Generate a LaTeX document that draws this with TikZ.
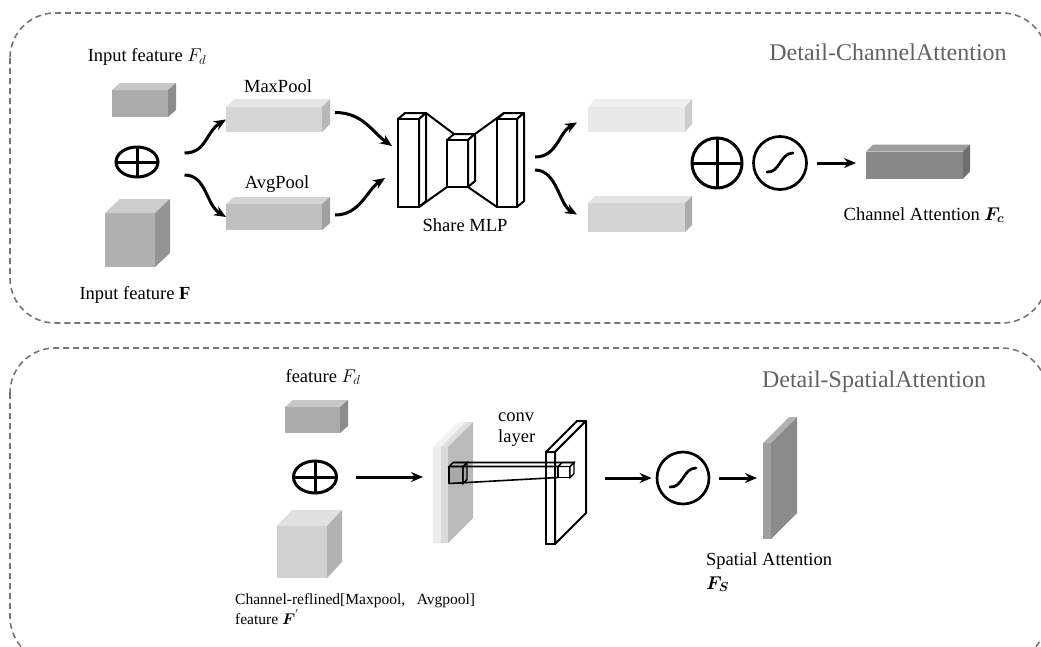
\RequirePackage{fix-cm}
\documentclass[tikz,border=0pt]{standalone}
\usepackage{amsmath,amssymb}
\usepackage{fontspec}
\setmainfont{Liberation Serif}
\usetikzlibrary{shapes.geometric,arrows.meta}

\definecolor{PanelGray}{RGB}{118,118,118}
\definecolor{TitleGray}{RGB}{98,98,98}

% top and right faces of a block whose front face is the node #1
\newcommand{\blockfaces}[4]{%
  \path[#3] (#1.north west) -- ([shift={#2}]#1.north west) -- ([shift={#2}]#1.north east) -- (#1.north east) -- cycle;
  \path[#4] (#1.north east) -- ([shift={#2}]#1.north east) -- ([shift={#2}]#1.south east) -- (#1.south east) -- cycle;
}

\begin{document}
\begin{tikzpicture}[x=1pt,y=-1pt,
    panel/.style={draw=PanelGray,line width=1.6pt,dash pattern=on 6pt off 4pt,rounded corners=45pt},
    blk/.style={rectangle,inner sep=0pt,outer sep=0pt},
    oplus/.style={ellipse,draw,line width=3pt,inner sep=0pt,
        path picture={\draw[line width=3pt] (path picture bounding box.north) -- (path picture bounding box.south)
                      (path picture bounding box.west) -- (path picture bounding box.east);}},
    sig/.style={circle,draw,line width=2.7pt,inner sep=0pt,minimum size=52pt,
        path picture={\draw[line width=2.7pt,line cap=round,shift={(path picture bounding box.center)}]
                      (-13pt,-9pt) .. controls (0pt,-10pt) and (0pt,10pt) .. (13pt,10pt);}},
    arr/.style={-{Stealth[length=12pt,width=10pt]},line width=3pt},
    lbl/.style={font=\fontsize{18.5}{21}\selectfont,inner sep=1pt},
    head/.style={font=\fontsize{24}{26}\selectfont,text=TitleGray}]
    \useasboundingbox (0,0) rectangle (1041,646);
    \clip (0,0) rectangle (1041,646);

    % dashed panels
    \draw[panel] (10,13) rectangle (1047,323);
    \draw[panel] (10,348) rectangle (1047,662);
    \node[head] (hC) at (888,52) {Detail-ChannelAttention};
    \node[head] (hS) at (874,382) {Detail-SpatialAttention};

    %% channel attention
    \node[blk,fill=black!33,minimum width=56pt,minimum height=27pt] (fdC) at (140,103.5) {};
    \blockfaces{fdC}{(8,-7)}{fill=black!22}{fill=black!45}
    \node[blk,fill=black!31,minimum width=50pt,minimum height=54pt] (fC) at (130,240) {};
    \blockfaces{fC}{(15,-14)}{fill=black!20}{fill=black!42}
    \node[oplus,minimum width=42pt,minimum height=30pt] (opF) at (137,162) {};
    \node[lbl] (tFd) at (147,57) {Input feature $F_d$};
    \node[lbl] (tF) at (135,295) {Input feature \textbf{F}};

    \node[blk,fill=black!16,minimum width=96pt,minimum height=25pt] (maxp) at (274,119.5) {};
    \blockfaces{maxp}{(8,-8)}{fill=black!10}{fill=black!28}
    \node[blk,fill=black!25,minimum width=96pt,minimum height=26pt] (avgp) at (274,217) {};
    \blockfaces{avgp}{(8,-7)}{fill=black!17}{fill=black!37}
    \node[lbl] (tMax) at (278,86) {MaxPool};
    \node[lbl] (tAvg) at (277,184) {AvgPool};
    \draw[arr] ([xshift=25pt,yshift=9pt]opF.east) .. controls +(22,0) and +(-20,12) .. (maxp.west);
    \draw[arr] ([xshift=25pt,yshift=-13pt]opF.east) .. controls +(22,0) and +(-20,-12) .. (avgp.west);

    % shared MLP
    \node[blk,minimum width=21pt,minimum height=88pt] (mlpA) at (408.5,163) {};
    \node[blk,minimum width=21pt,minimum height=47pt] (mlpB) at (457.5,163.5) {};
    \node[blk,minimum width=20pt,minimum height=88pt] (mlpC) at (507,163) {};
    \draw[line width=2pt] ([shift={(7,-6)}]mlpA.north east) -- ([shift={(7,-6)}]mlpB.north west)
        ([shift={(7,-6)}]mlpB.north east) -- ([shift={(7,-6)}]mlpC.north west)
        (mlpA.south east) -- (mlpB.south west) (mlpB.south east) -- (mlpC.south west);
    \foreach \mlpbar in {mlpA,mlpB,mlpC}{
        \blockfaces{\mlpbar}{(7,-6)}{draw,fill=white,line width=2pt,line join=round}{draw,fill=white,line width=2pt,line join=round}
        \draw[line width=2pt,fill=white] (\mlpbar.north west) rectangle (\mlpbar.south east);
    }
    \node[lbl] (tMlp) at (465,225) {Share MLP};
    \draw[arr] ([xshift=13pt,yshift=7pt]maxp.east) .. controls +(28,0) and +(-20,-14) .. ([xshift=-6pt,yshift=17pt]mlpA.west);
    \draw[arr] ([xshift=13pt,yshift=2pt]avgp.east) .. controls +(25,0) and +(-18,12) .. ([xshift=-13pt,yshift=-15pt]mlpA.west);

    \node[blk,fill=black!9,minimum width=97pt,minimum height=25pt] (out1) at (636.5,119.5) {};
    \blockfaces{out1}{(7,-8)}{fill=black!6}{fill=black!20}
    \node[blk,fill=black!17,minimum width=97pt,minimum height=29pt] (out2) at (636.5,217.5) {};
    \blockfaces{out2}{(7,-7)}{fill=black!11}{fill=black!32}
    \draw[arr] ([xshift=18pt,yshift=6pt]mlpC.east) .. controls +(22,0) and +(-18,10) .. ([xshift=-11pt,yshift=-3pt]out1.west);
    \draw[arr] ([xshift=18pt,yshift=-7pt]mlpC.east) .. controls +(22,0) and +(-18,-10) .. ([xshift=-11pt,yshift=3pt]out2.west);

    \node[oplus,minimum width=50pt,minimum height=50pt] (opC) at (717,163) {};
    \node[sig,minimum size=53pt] (sigC) at (780,163) {};
    \node[blk,fill=black!47,minimum width=97pt,minimum height=27pt] (fc) at (914.5,165) {};
    \blockfaces{fc}{(7,-7)}{fill=black!38}{fill=black!56}
    \draw[arr,shorten <=9pt,shorten >=10pt] (sigC.east) -- (sigC -| fc.west);
    \node[lbl] (tFc) at (924,215) {Channel Attention $\boldsymbol{F_c}$};

    %% spatial attention
    \node[blk,fill=black!33,minimum width=55pt,minimum height=26pt] (fdS) at (312.5,420) {};
    \blockfaces{fdS}{(8,-7)}{fill=black!22}{fill=black!45}
    \node[blk,fill=black!18,minimum width=50pt,minimum height=52pt] (fS) at (302,552) {};
    \blockfaces{fS}{(15,-16)}{fill=black!12}{fill=black!30}
    \node[oplus,minimum width=43pt,minimum height=32pt] (opS) at (315,477) {};
    \node[lbl] (tFdS) at (323,377) {feature $F_d$};
    \node[anchor=north west,align=left,inner sep=1pt,font=\fontsize{15.5}{20}\selectfont] (tRef) at (234,592)
        {Channel-reflined[Maxpool,\hspace{0.75em}Avgpool]\\feature $\boldsymbol{F}^{'}$};

    % pooled maps and kernel
    \node[blk,fill=black!7,minimum width=8pt,minimum height=96pt] (fmapA) at (437,495) {};
    \blockfaces{fmapA}{(25,-25)}{fill=black!5}{fill=black!10}
    \node[blk,fill=black!15,minimum width=7pt,minimum height=96pt] (fmapB) at (444.5,495) {};
    \blockfaces{fmapB}{(25,-25)}{fill=black!12}{fill=black!27}
    \draw[arr,shorten <=18pt,shorten >=10pt] (opS.east) -- (opS -| fmapA.west);

    \node[blk,draw,fill=white,line width=2pt,minimum width=9pt,minimum height=92pt] (conv) at (550.5,498) {};
    \blockfaces{conv}{(31,-31)}{draw,fill=white,line width=2pt,line join=round}{draw,fill=white,line width=2pt,line join=round}
    \node[lbl,anchor=west,align=left] (tConv) at (497,430) {conv\\layer};

    \node[blk,draw,fill=black!40,fill opacity=.5,line width=1.4pt,minimum width=14pt,minimum height=17pt] (kern) at (456,475) {};
    \blockfaces{kern}{(4,-4)}{draw,fill=black!30,fill opacity=.5,line width=1.4pt}{draw,fill=black!45,fill opacity=.5,line width=1.4pt}
    \node[blk,draw,fill=white,line width=1.4pt,minimum width=12pt,minimum height=11pt] (kpatch) at (564,472) {};
    \blockfaces{kpatch}{(4,-4)}{draw,fill=white,line width=1.4pt}{draw,fill=white,line width=1.4pt}
    \draw[line width=1.6pt] (kern.north west) -- (kpatch.north west)
        (kern.south west) -- (kpatch.south west)
        ([shift={(4,-4)}]kern.north west) -- ([shift={(4,-4)}]kpatch.north west)
        ([shift={(4,-4)}]kern.north east) -- ([shift={(4,-4)}]kpatch.north east);

    \node[sig] (sigS) at (683,478) {};
    \draw[arr,shorten <=35pt,shorten >=4pt] (sigS -| kpatch.east) -- (sigS.west);
    \node[blk,fill=black!38,minimum width=8pt,minimum height=96pt] (spat) at (767,491) {};
    \blockfaces{spat}{(26,-26)}{fill=black!30}{fill=black!46}
    \draw[arr,shorten <=9pt,shorten >=6pt] (sigS.east) -- (sigS -| spat.west);
    \node[anchor=north west,align=left,inner sep=1pt,font=\fontsize{18.5}{24}\selectfont] (tFs) at (705,551)
        {Spatial Attention\\$\boldsymbol{F_S}$};
\end{tikzpicture}
\end{document}
